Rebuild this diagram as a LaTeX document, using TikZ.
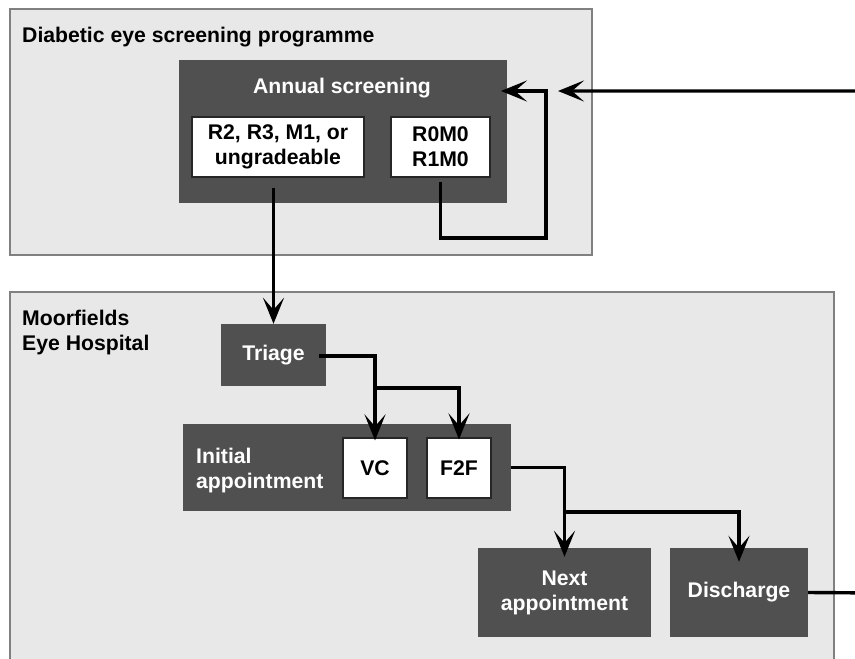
\documentclass[tikz,border=0pt]{standalone}
\usepackage{fontspec}
\setmainfont{Liberation Sans}
\usetikzlibrary{arrows.meta,calc}
\definecolor{dark}{HTML}{505050}
\definecolor{panel}{HTML}{E8E8E8}
\definecolor{panelline}{HTML}{808080}
\begin{document}
\begin{tikzpicture}[x=1pt,y=-1pt,
  txt/.style={font=\bfseries\fontsize{21.2}{25}\selectfont},
  panelbox/.style={draw=panelline, fill=panel, line width=1.2pt, inner sep=0pt},
  darkbox/.style={txt, fill=dark, text=white, align=center, inner sep=0pt},
  whitebox/.style={txt, draw=black!85, fill=white, line width=1.2pt, align=center, inner sep=0pt},
  conn/.style={line width=3.4pt, line join=miter},
  arr/.style={conn, -{Stealth[length=26pt,width=21pt,inset=12pt]}}]
\clip (0,0) rectangle (855,659);
\fill[white] (0,0) rectangle (855,659);
% panels
\node[panelbox, minimum width=582pt, minimum height=246pt] (dep) at (301,132) {};
\node[panelbox, minimum width=824pt, minimum height=400pt] (meh) at (422,492) {};
\node[txt, anchor=base west, inner sep=0pt] (deptitle) at (22,42) {Diabetic eye screening programme};
\node[txt, anchor=base west, align=left, inner sep=0pt] (mehtitle) at (22,350) {Moorfields\\Eye Hospital};
% screening
\node[darkbox, minimum width=328pt, minimum height=143pt] (annual) at (343,131.5) {};
\node[txt, text=white, anchor=base, inner sep=0pt] (annualtxt) at (342,93) {Annual screening};
\node[whitebox, minimum width=172pt, minimum height=60pt] (r2) at (278,147) {R2, R3, M1, or\\ungradeable};
\node[whitebox, minimum width=99pt, minimum height=60pt] (r0) at (440.5,147) {R0M0\\R1M0};
% hospital
\node[darkbox, minimum width=105pt, minimum height=62pt] (triage) at (273.5,355) {Triage};
\node[darkbox, minimum width=328pt, minimum height=87pt] (init) at (347,467.5) {};
\node[txt, text=white, anchor=base west, align=left, inner sep=0pt] (inittxt) at (196,488) {Initial\\appointment};
\node[whitebox, minimum width=64pt, minimum height=60pt] (vc) at (375,468) {VC};
\node[whitebox, minimum width=64pt, minimum height=60pt] (f2f) at (459,468) {F2F};
\node[darkbox, minimum width=173pt, minimum height=89pt] (next) at (564.5,592.5) {Next\\appointment};
\node[darkbox, minimum width=138pt, minimum height=89pt] (discharge) at (739,592.5) {Discharge};
% coordinates
\coordinate (loopcorner) at (546,238);
\coordinate (loopin) at (501,91);
\coordinate (retin) at (558,91);
\coordinate (offright) at (880,593);
\coordinate (tsplit) at (375,388);
\coordinate (fsplit) at (564.5,512);
% connectors
\draw[arr] ($(triage.north |- r2.south)+(0,10)$) -- (triage.north);
\draw[arr] ($(r0.south)+(0,4)$) |- (loopcorner) |- (loopin);
\draw[arr] (discharge.east) -- (offright) |- (retin);
\draw[arr] ($(triage.east)+(-7,1)$) -| ($(vc.north)+(0,3)$);
\draw[arr] (tsplit) -| ($(f2f.north)+(0,2)$);
\draw[arr] (init.east) -| ($(next.north)+(0,9)$);
\draw[arr] (fsplit) -| ($(discharge.north)+(0,14)$);
\end{tikzpicture}
\end{document}
